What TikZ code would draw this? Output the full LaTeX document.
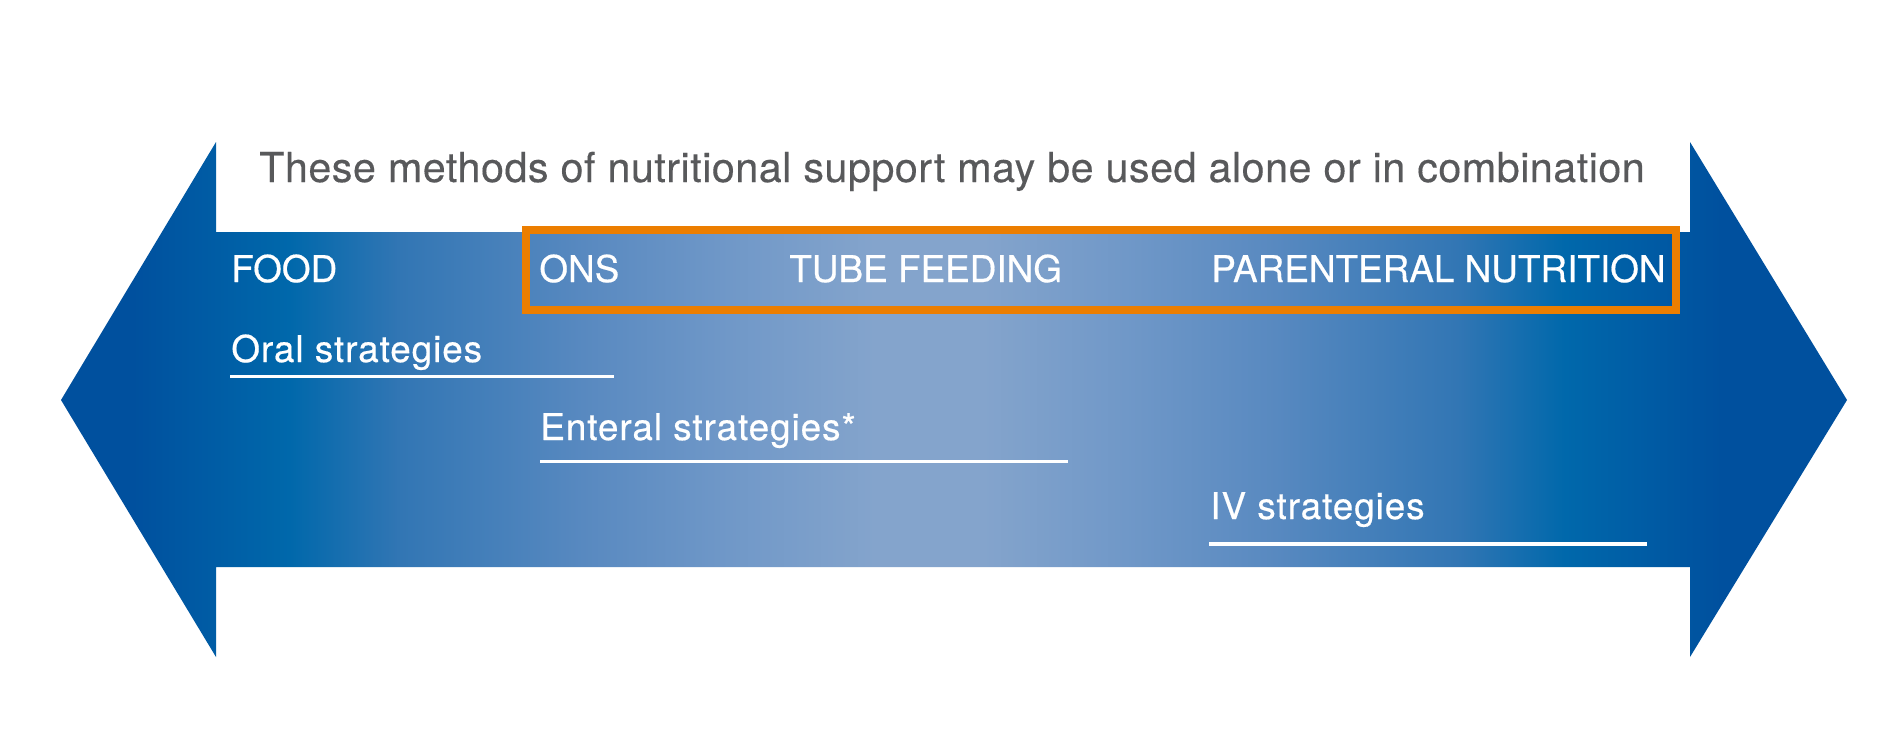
\documentclass[tikz,border=0pt]{standalone}
\usepackage{fontspec}
\setmainfont{TeX Gyre Heros}
\newfontfamily\labelfont{TeX Gyre Heros}[FakeBold=0.5]
\newfontfamily\headfont{TeX Gyre Heros}[FakeBold=0.3,LetterSpace=1.2]
\usepackage{tikz}
\usetikzlibrary{calc,positioning}

\definecolor{arrowDark}{RGB}{0,80,158}
\definecolor{arrowMid}{RGB}{0,104,171}
\definecolor{arrowLight}{RGB}{132,164,204}
\definecolor{boxOrange}{RGB}{236,126,0}
\definecolor{titleGray}{RGB}{88,89,91}

\pgfdeclarehorizontalshading{arrowshade}{100bp}{color(0bp)=(arrowDark); color(27bp)=(arrowDark);
	color(31.4bp)=(arrowMid); color(34.5bp)=(rgb,255:red,50;green,118;blue,180);
	color(39.6bp)=(rgb,255:red,88;green,137;blue,192); color(43.7bp)=(rgb,255:red,112;green,152;blue,200);
	color(47.8bp)=(arrowLight); color(50.8bp)=(arrowLight);
	color(54.8bp)=(rgb,255:red,112;green,152;blue,200); color(59bp)=(rgb,255:red,88;green,137;blue,192);
	color(64.1bp)=(rgb,255:red,50;green,118;blue,180); color(67.1bp)=(arrowMid);
	color(71.5bp)=(arrowDark); color(100bp)=(arrowDark)}

\begin{document}
\begin{tikzpicture}[x=0.02cm,y=-0.02cm,
	lbl/.style={text=white,font=\labelfont\fontsize{21}{25}\selectfont,inner sep=0pt,anchor=base west},
	lowlbl/.style={lbl,font=\labelfont\fontsize{21}{25}\selectfont\addfontfeatures{LetterSpace=2.5}},
	uline/.style={white,line width=1.9pt}]
	\newcommand{\tipL}{61}
	\newcommand{\tipR}{1847}
	\newcommand{\notchL}{216}
	\newcommand{\notchR}{1690}
	\newcommand{\midY}{400}
	\newcommand{\wingTop}{142}
	\newcommand{\wingBot}{657}
	\newcommand{\shaftTop}{232}
	\newcommand{\shaftBot}{567}

	\fill[white] (0,0) rectangle (1903,728);
	\useasboundingbox (0,0) rectangle (1903,728);

	% double arrow
	\shade[shading=arrowshade] (\tipL,\midY) -- (\notchL,\wingTop) -- (\notchL,\shaftTop)
		-- (\notchR,\shaftTop) -- (\notchR,\wingTop) -- (\tipR,\midY) -- (\notchR,\wingBot)
		-- (\notchR,\shaftBot) -- (\notchL,\shaftBot) -- (\notchL,\wingBot) -- cycle;

	% heading
	\node[text=titleGray,font=\headfont\fontsize{23.5}{28}\selectfont,inner sep=0pt,anchor=base]
		(heading) at (952,182) {These methods of nutritional support may be used alone or in combination};

	% orange frame
	\draw[boxOrange,line width=4.55pt] (526,229.5) rectangle (1676,310);

	% top row
	\node[lbl] (food) at (231,282) {FOOD};
	\node[lbl] (ons) at (539,282) {ONS};
	\node[lbl] (tube) at (789,282) {TUBE FEEDING};
	\node[lbl] (parenteral) at (1211,282) {PARENTERAL NUTRITION};

	% strategies
	\node[lowlbl] (oral) at (231,362) {Oral strategies};
	\node[lowlbl] (enteral) at (540,440) {Enteral strategies*};
	\node[lowlbl] (iv) at (1210,519) {IV strategies};
	\draw[uline] ($(oral.base west)+(-1,14.6)$) -- ++(384,0);
	\draw[uline] ($(enteral.base west)+(0,21.7)$) -- ++(528,0);
	\draw[uline] ($(iv.base west)+(-1,25)$) -- ++(438,0);
\end{tikzpicture}
\end{document}
